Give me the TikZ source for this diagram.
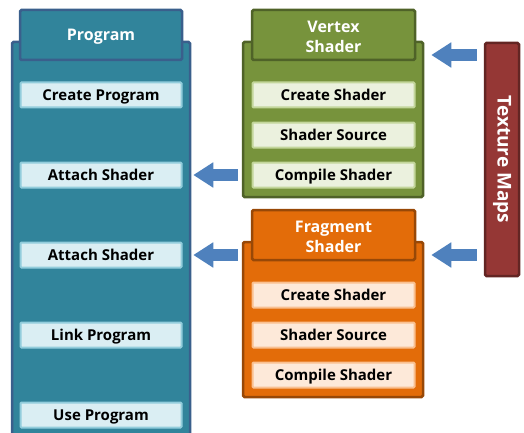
\documentclass[tikz,border=0pt]{standalone}
\usepackage{fontspec}
\setmainfont{Open Sans}
\usetikzlibrary{arrows.meta}
\definecolor{progfill}{HTML}{31849B}
\definecolor{progdraw}{HTML}{3A5F8C}
\definecolor{proginner}{HTML}{DAEEF3}
\definecolor{proginnerd}{HTML}{92CDDC}
\definecolor{vfill}{HTML}{77933C}
\definecolor{vdraw}{HTML}{4F6228}
\definecolor{vinner}{HTML}{EBF1DE}
\definecolor{vinnerd}{HTML}{C3D69B}
\definecolor{ffill}{HTML}{E36C09}
\definecolor{fdraw}{HTML}{984807}
\definecolor{finner}{HTML}{FDE9D9}
\definecolor{finnerd}{HTML}{FAC090}
\definecolor{tfill}{HTML}{953735}
\definecolor{tdraw}{HTML}{632523}
\definecolor{arrowblue}{HTML}{4F81BD}
\tikzset{
  panel/.style={rectangle, inner sep=0pt, line width=2.5pt, rounded corners=1.5pt},
  headtext/.style={text=white, font=\bfseries\fontsize{16}{20}\selectfont, align=center},
  item/.style={rectangle, inner sep=0pt, line width=2pt, rounded corners=1pt,
    minimum height=25pt, font=\bfseries\fontsize{15}{17}\selectfont, text=black,
    text height=12pt, text depth=1pt},
  pitem/.style={item, fill=proginner, draw=proginnerd, minimum width=161pt},
  vitem/.style={item, fill=vinner, draw=vinnerd, minimum width=162pt},
  fitem/.style={item, fill=finner, draw=finnerd, minimum width=162pt},
  blockarrow/.style={draw=arrowblue, line width=12pt,
    -{Triangle[width=24pt,length=20pt]}}
}
\begin{document}
\begin{tikzpicture}[x=1pt,y=-1pt]
\useasboundingbox (0,0) rectangle (524,433);
\clip (0,0) rectangle (524,433);
% Program
\node[panel, fill=progfill, draw=progdraw, minimum width=178pt, minimum height=403pt] (pbody) at (101,243.5) {};
\node[panel, fill=progfill, draw=progdraw, minimum width=162pt, minimum height=50pt] (phead) at (101,35) {};
\node[headtext] (pheadtext) at (101,37) {Program};
\node[pitem] (pcreate) at (101,95) {Create Program};
\node[pitem] (pattach1) at (101,175) {Attach Shader};
\node[pitem] (pattach2) at (101,255) {Attach Shader};
\node[pitem] (plink) at (101,335) {Link Program};
\node[pitem] (puse) at (101,415) {Use Program};
% Vertex shader
\node[panel, fill=vfill, draw=vdraw, minimum width=180pt, minimum height=155pt] (vbody) at (333,119.5) {};
\node[panel, fill=vfill, draw=vdraw, minimum width=163pt, minimum height=50pt] (vhead) at (333.5,35) {};
\node[headtext] (vheadtext) at (333.5,37) {Vertex\\Shader};
\node[vitem] (vcreate) at (333.5,95) {Create Shader};
\node[vitem] (vsource) at (333.5,135) {Shader Source};
\node[vitem] (vcompile) at (333.5,175) {Compile Shader};
% Fragment shader
\node[panel, fill=ffill, draw=fdraw, minimum width=180pt, minimum height=155pt] (fbody) at (333,319.5) {};
\node[panel, fill=ffill, draw=fdraw, minimum width=163pt, minimum height=50pt] (fhead) at (333.5,235) {};
\node[headtext] (fheadtext) at (333.5,237) {Fragment\\Shader};
\node[fitem] (fcreate) at (333.5,295) {Create Shader};
\node[fitem] (fsource) at (333.5,335) {Shader Source};
\node[fitem] (fcompile) at (333.5,375) {Compile Shader};
% Texture maps
\node[panel, fill=tfill, draw=tdraw, minimum width=34pt, minimum height=233pt] (tex) at (502,159.5) {};
\node[text=white, font=\bfseries\fontsize{19}{21}\selectfont, rotate=-90] (texlabel) at (tex.center) {Texture Maps};
% Arrows
\coordinate (tv) at (0,55);
\coordinate (tf) at (0,255);
\draw[blockarrow] ([xshift=-7pt]tex.west |- tv) -- ([xshift=7pt]vbody.east |- tv);
\draw[blockarrow] ([xshift=-7pt]tex.west |- tf) -- ([xshift=7pt]fbody.east |- tf);
\draw[blockarrow] ([xshift=-4pt]vbody.west |- vcompile) -- ([xshift=2pt]pbody.east |- pattach1);
\draw[blockarrow] ([xshift=-4pt]fbody.west |- pattach2) -- ([xshift=2pt]pbody.east |- pattach2);
\end{tikzpicture}
\end{document}
